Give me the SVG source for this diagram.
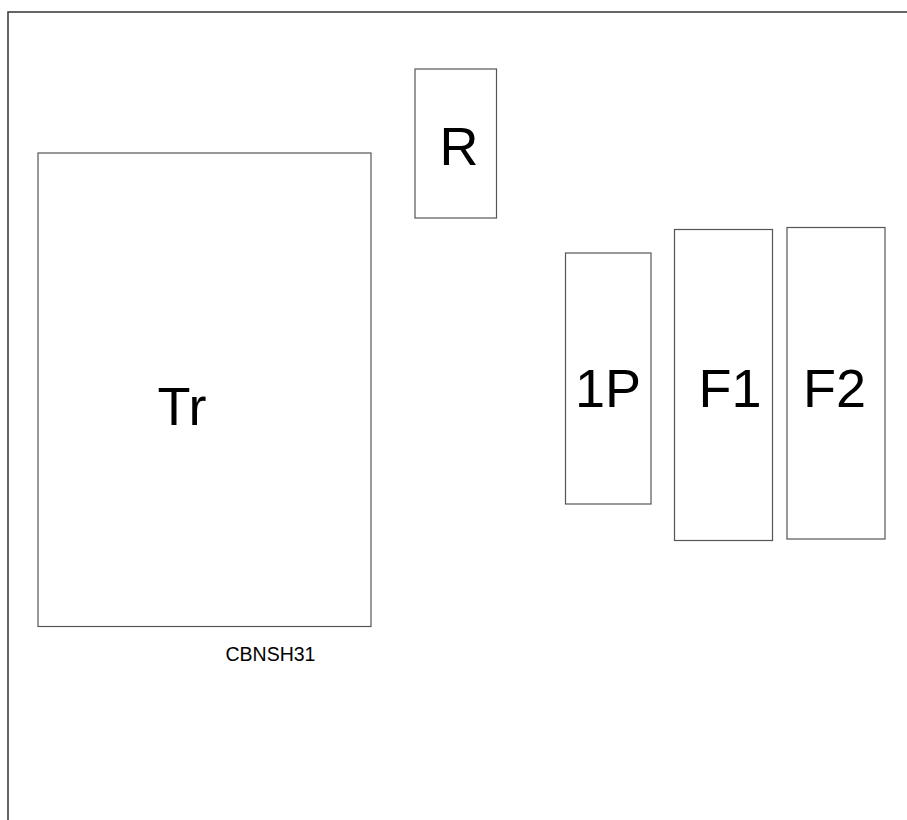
<svg xmlns="http://www.w3.org/2000/svg" width="907" height="820" viewBox="0 0 907 820">
<style>
.box{fill:#fff;stroke:#555;stroke-width:1.2}
.frame{fill:none;stroke:#333;stroke-width:1.5}
.big{font-family:"Liberation Sans",Arial,sans-serif;font-size:54px;fill:#000}
.small{font-family:"Liberation Sans",Arial,sans-serif;font-size:19.5px;fill:#000}
</style>
<rect width="907" height="820" fill="#fff"/>
<path class="frame" d="M8,820 V12 H907"/>
<g id="node-Tr"><rect class="box" x="38" y="153" width="333" height="473.5"/><text class="big" x="157.5" y="425" font-size="56">Tr</text></g>
<g id="node-R"><rect class="box" x="415" y="69" width="81.5" height="149"/><text class="big" x="439.5" y="165">R</text></g>
<g id="node-1P"><rect class="box" x="565.5" y="253" width="85.5" height="251"/><text class="big" x="575" y="406.5" font-size="53">1P</text></g>
<g id="node-F1"><rect class="box" x="674.5" y="229.5" width="98" height="311"/><text class="big" x="698.5" y="406.5">F1</text></g>
<g id="node-F2"><rect class="box" x="787" y="227.5" width="98" height="311.5"/><text class="big" x="803" y="406.5">F2</text></g>
<g id="connectors"></g>
<text class="small" x="225.5" y="660.7">CBNSH31</text>
</svg>
